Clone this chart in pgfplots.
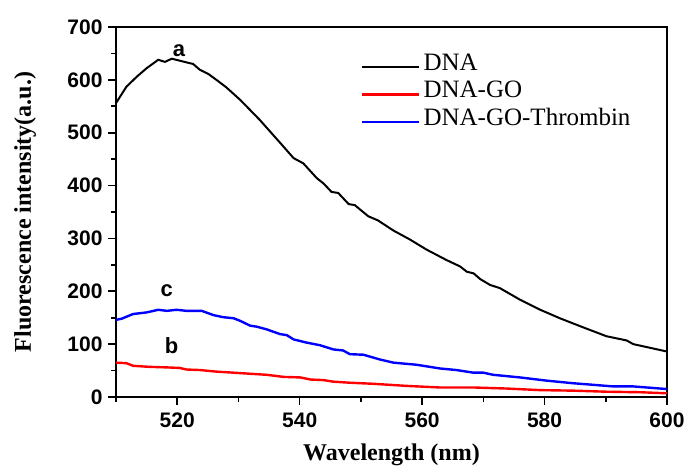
\documentclass[border=0pt]{standalone}
\usepackage{fontspec}
\setmainfont{Liberation Serif}
\newfontfamily\arial{Liberation Sans}
\usepackage{pgfplots}
\pgfplotsset{compat=1.18}

\begin{document}
\begin{tikzpicture}
\begin{axis}[
    name=ax,
    scale only axis, width=551pt, height=370pt,
    xmin=510, xmax=600, ymin=0, ymax=700,
    xtick={520,540,560,580,600}, ytick={0,100,...,700},
    minor xtick={510,530,550,570,590}, minor ytick={50,150,...,650},
    xtick pos=bottom, ytick pos=left,
    tick align=outside,
    major tick length=8pt, minor tick length=5pt,
    axis line style={line width=2pt},
    every tick/.style={line width=1.6pt, black},
    /pgf/number format/assume math mode=true,
    /pgf/number format/1000 sep={},
    ticklabel style={font=\arial\bfseries\fontsize{21}{21}\selectfont},
    xticklabel style={yshift=-4pt},
    yticklabel style={xshift=-2pt},
    xlabel={\textbf{Wavelength (nm)}},
    ylabel={\textbf{Fluorescence intensity(a.u.)}},
    label style={font=\fontsize{24}{24}\selectfont},
    xlabel style={at={(axis description cs:0.5,-0.156)}, anchor=center},
    ylabel style={at={(axis description cs:-0.165,0.5)}, anchor=center},
    legend style={draw=none, fill=none, at={(axis description cs:0.4446,0.93)},
        anchor=north west, inner sep=0pt, row sep=0pt,
        font=\fontsize{25}{25}\selectfont,
        nodes={text height=17pt, text depth=10.5pt, inner xsep=3pt, inner ysep=0pt}},
    legend cell align=left,
    legend image code/.code={\draw[#1] (0pt,0pt) -- (57pt,0pt);},
]
\addplot[black, line width=2pt] coordinates {
(510,556) (511.7,587) (513.4,606) (515,622) (516.9,638) (518,634) (519.1,640)
(522.6,630) (523.7,619) (525.1,611) (526.4,600) (528,586) (530.3,562)
(533.5,524) (536.8,481) (539,452) (540.6,442) (542.8,414) (543.9,404)
(545.2,388) (546.3,386) (548,365) (549,363) (551.2,342) (552.8,334)
(555.3,315) (558,298) (560.7,279) (564,259) (566.2,247) (567.3,237)
(568.4,234) (569.5,223) (571.1,212) (572.7,206) (576,184) (579.3,165)
(582.5,149) (585.8,134) (590.1,115) (593.4,107) (594.5,100) (600,86)
};
\addplot[red, line width=2.4pt] coordinates {
(510,65) (511.7,64) (512.8,59) (515.5,57) (518.3,56) (520.4,55) (521.5,52)
(523.7,51) (526.4,48) (529.2,46) (531.9,44) (534.6,42) (537.4,38) (540.1,37)
(541.8,33) (543.9,32) (545.5,29) (548.2,27) (552,25) (557.5,21) (562.9,18)
(568.4,18) (573.8,16) (579.3,13) (584.7,12) (590.1,10) (595.6,9) (600,7)
};
\addplot[blue, line width=2.4pt] coordinates {
(510,146) (510.9,148) (512.8,157) (515,160) (516.9,165) (518.3,163)
(519.9,165) (521.5,163) (524,163) (525.9,155) (527.5,151) (529.2,149)
(530.3,144) (531.9,135) (533,133) (534.6,128) (536.8,119) (537.9,117)
(539,109) (541.1,103) (543.3,98) (545.5,90) (547.1,88) (548.2,81)
(550.4,80) (553.1,71) (555.3,65) (559.1,61) (562.9,54) (565.6,51)
(568.4,46) (570,46) (571.6,42) (576,37) (580.3,31) (584.7,26) (588,23)
(591.2,20) (594.5,20) (600,15)
};
\legend{DNA, DNA-GO, DNA-GO-Thrombin}
\node[font=\arial\bfseries\fontsize{22}{22}\selectfont] at (axis cs:520.3,655) {a};
\node[font=\arial\bfseries\fontsize{22}{22}\selectfont] at (axis cs:519.1,97) {b};
\node[font=\arial\bfseries\fontsize{22}{22}\selectfont] at (axis cs:518.3,201) {c};
\end{axis}
\path (ax.south west) ++(-116pt,-69pt) coordinate (bl);
\path (ax.north east) ++(22pt,27pt) coordinate (tr);
\end{tikzpicture}
\end{document}
